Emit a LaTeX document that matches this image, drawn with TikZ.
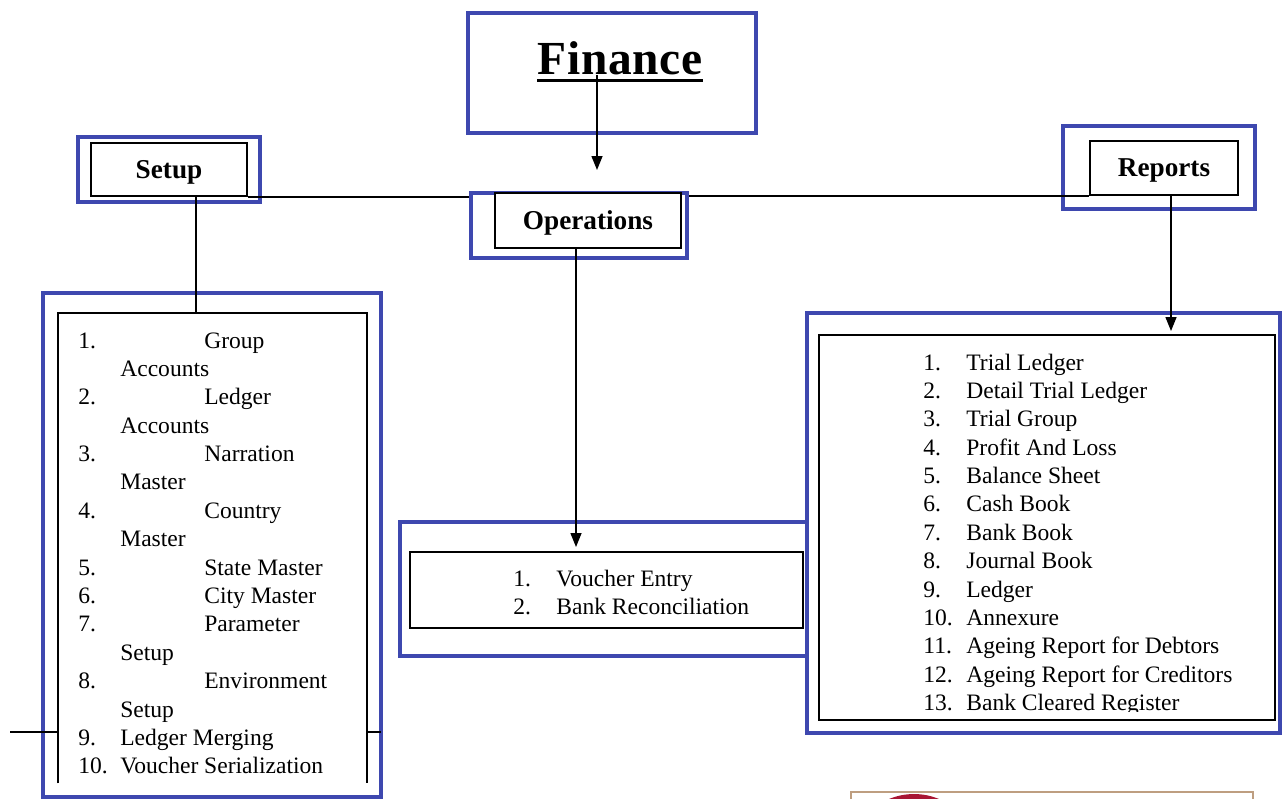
\documentclass[tikz,border=0pt]{standalone}
\usepackage{fontspec}
\setmainfont{Liberation Serif}
\usetikzlibrary{arrows.meta}
\definecolor{boxblue}{RGB}{62,72,175}
\definecolor{boxtan}{RGB}{190,158,128}
\definecolor{sealred}{RGB}{168,22,52}
\tikzstyle{outer} = [draw=boxblue, line width=2.3pt, fill=white, inner sep=0pt]
\tikzstyle{inner} = [draw=black, line width=1pt, fill=white, inner sep=0pt, text depth=0pt,
font=\fontsize{15.5}{18}\selectfont\bfseries]
\tikzstyle{items} = [anchor=base west, inner sep=0pt, font=\fontsize{13.4}{16.16}\selectfont]
\tikzstyle{arrow} = [line width=0.8pt,-{Triangle[length=0.28cm,width=0.22cm]}]
\tikzstyle{link} = [line width=0.8pt]

\begin{document}
\begin{tikzpicture}[x=0.02cm,y=-0.02cm]
\useasboundingbox (0,0) rectangle (1283,798);
\fill[white] (0,0) rectangle (1283,798);

% top
\node[outer, minimum width=5.76cm, minimum height=2.4cm] (finance) at (612,73) {};
\node[inner sep=0pt, font=\fontsize{27}{31}\selectfont\bfseries\addfontfeature{LetterSpace=1.5}]
    (fintitle) at (620,58) {Finance};
\draw[line width=1.7pt] ([yshift=-0.12cm]fintitle.base west) -- ([yshift=-0.12cm]fintitle.base east);

% the three heads
\node[outer, minimum width=3.64cm, minimum height=1.3cm] (setup) at (169,169.5) {};
\node[inner, minimum width=3.12cm, minimum height=1.06cm] (setupin) at (169,169.5) {Setup};
\node[outer, minimum width=4.32cm, minimum height=1.3cm] (oper) at (579,225.5) {};
\node[inner, minimum width=3.72cm, minimum height=1.1cm] (operin) at (588,220.5) {Operations};
\node[outer, minimum width=3.84cm, minimum height=1.66cm] (reports) at (1159,167.5) {};
\node[inner, minimum width=2.96cm, minimum height=1.08cm] (reportsin) at (1164,168) {Reports};

% setup list
\node[outer, minimum width=6.76cm, minimum height=10.08cm] (setuplist) at (212,545) {};
\node[minimum width=6.18cm, minimum height=9.4cm, inner sep=0pt] (setuplistin) at (212.5,548) {};
\draw[line width=1pt] (setuplistin.south west) |- (setuplistin.north east) -- (setuplistin.south east);
\node[items] (setuplines) at (78,348) {\begin{tabular}[t]{@{}p{0.84cm}@{}l@{}}
1. & \hspace{1.68cm}Group\\
   & Accounts\\
2. & \hspace{1.68cm}Ledger\\
   & Accounts\\
3. & \hspace{1.68cm}Narration\\
   & Master\\
4. & \hspace{1.68cm}Country\\
   & Master\\
5. & \hspace{1.68cm}State Master\\
6. & \hspace{1.68cm}City Master\\
7. & \hspace{1.68cm}Parameter\\
   & Setup\\
8. & \hspace{1.68cm}Environment\\
   & Setup\\
9. & Ledger Merging\\
10. & Voucher Serialization
\end{tabular}};

% operations list
\node[outer, minimum width=8.14cm, minimum height=2.68cm] (operlist) at (603.5,589) {};
\node[draw, line width=1pt, minimum width=7.86cm, minimum height=1.52cm, inner sep=0pt] (operlistin) at (606.5,590) {};
\node[items] (operlines) at (513,586) {\begin{tabular}[t]{@{}p{0.86cm}@{}l@{}}
1. & Voucher Entry\\
2. & Bank Reconciliation
\end{tabular}};

% reports list
\node[outer, minimum width=9.46cm, minimum height=8.4cm] (replist) at (1043.5,523) {};
\node[draw, line width=1pt, minimum width=9.12cm, minimum height=7.7cm, inner sep=0pt] (replistin) at (1047,527.5) {};
\begin{scope}
\clip (819,335) rectangle (1275,711);
\node[items] (replines) at (923,370) {\begin{tabular}[t]{@{}p{0.86cm}@{}l@{}}
1. & Trial Ledger\\
2. & Detail Trial Ledger\\
3. & Trial Group\\
4. & Profit And Loss\\
5. & Balance Sheet\\
6. & Cash Book\\
7. & Bank Book\\
8. & Journal Book\\
9. & Ledger\\
10. & Annexure\\
11. & Ageing Report for Debtors\\
12. & Ageing Report for Creditors\\
13. & Bank Cleared Register
\end{tabular}};
\end{scope}

% connectors
\coordinate (fintip) at (597,170);
\coordinate (setupdrop) at (196,313);
\coordinate (operdrop) at (576,547);
\coordinate (repdrop) at (1171,331);
\coordinate (leftstub) at (10,732);
\coordinate (rightstub) at (381,732);
\draw[arrow] (fintitle.south -| fintip) -- (fintip);
\draw[link] (setupin.south east) -- (setupin.south east -| oper.west);
\draw[link] (oper.east |- reportsin.south west) -- (reportsin.south west);
\draw[link] (setupin.south -| setupdrop) -- (setupdrop);
\draw[arrow] (operin.south -| operdrop) -- (operdrop);
\draw[arrow] (reportsin.south -| repdrop) -- (repdrop);
\draw[link] (leftstub) -- (leftstub -| setuplistin.west);
\draw[link] (rightstub -| setuplistin.east) -- (rightstub);

% next page peeking in
\begin{scope}
\clip (0,0) rectangle (1283,798);
\draw[boxtan, line width=1.2pt] (851,810) |- (1253,792) -- (1253,810);
\fill[sealred] (914,859) circle (1.3cm);
\end{scope}
\end{tikzpicture}
\end{document}
